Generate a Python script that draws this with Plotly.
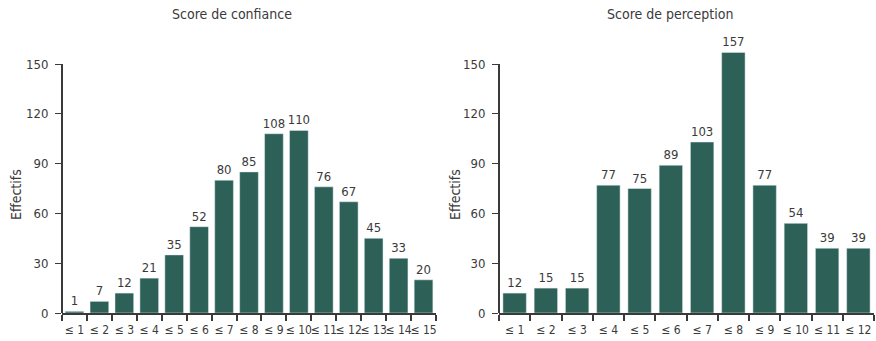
import plotly.graph_objects as go

W, H = 876, 341

cats_conf = ["≤ 1", "≤ 2", "≤ 3", "≤ 4", "≤ 5", "≤ 6", "≤ 7", "≤ 8", "≤ 9", "≤ 10",
             "≤ 11", "≤ 12", "≤ 13", "≤ 14", "≤ 15"]
vals_conf = [1, 7, 12, 21, 35, 52, 80, 85, 108, 110, 76, 67, 45, 33, 20]

cats_perc = ["≤ 1", "≤ 2", "≤ 3", "≤ 4", "≤ 5", "≤ 6", "≤ 7", "≤ 8", "≤ 9", "≤ 10",
             "≤ 11", "≤ 12"]
vals_perc = [12, 15, 15, 77, 75, 89, 103, 157, 77, 54, 39, 39]

y_ticks = [0, 30, 60, 90, 120, 150]
titles = ["Score de confiance", "Score de perception"]
y_title = "Effectifs"

BAR = "#2d6157"
INK = "#3a3a3a"
FONT = "DejaVu Sans Condensed, Liberation Sans Narrow, sans-serif"

def px_x(x):
    return x / W

def px_y(y):
    return 1 - y / H

# plot geometry (pixels)
y0_px, y150_px = 313, 64
per_unit = (y0_px - y150_px) / 150.0
ymax = 162
ytop_px = y0_px - ymax * per_unit

fig = go.Figure()

for cats, vals, xa, ya in ((cats_conf, vals_conf, "x", "y"), (cats_perc, vals_perc, "x2", "y2")):
    fig.add_trace(go.Bar(x=cats, y=vals, marker_color=BAR, text=vals,
                         textposition="outside", cliponaxis=False, constraintext="none",
                         textfont=dict(family=FONT, size=13, color=INK),
                         xaxis=xa, yaxis=ya, hoverinfo="skip"))

xcommon = dict(type="category", tickson="boundaries", ticks="outside", ticklen=6,
               tickwidth=1.5, tickcolor=INK, showline=True, linecolor=INK, linewidth=2,
               showgrid=False, zeroline=False, tickangle=0, automargin=False,
               ticklabelstandoff=5,
               tickfont=dict(family=FONT, size=12, color=INK))
ycommon = dict(range=[0, ymax], tickvals=y_ticks, ticks="outside", ticklen=6,
               tickwidth=1, tickcolor=INK, showline=False, showgrid=False, zeroline=False,
               automargin=False, ticklabelstandoff=4,
               tickfont=dict(family=FONT, size=13, color=INK))

ydom = [px_y(y0_px), px_y(ytop_px)]

fig.update_layout(
    width=W, height=H,
    margin=dict(l=0, r=0, t=0, b=0, autoexpand=False),
    paper_bgcolor="white", plot_bgcolor="white",
    showlegend=False, bargap=0.25,
    xaxis=dict(domain=[px_x(62), px_x(436)], anchor="y", **xcommon),
    yaxis=dict(domain=ydom, anchor="x", **ycommon),
    xaxis2=dict(domain=[px_x(499), px_x(874)], anchor="y2", **xcommon),
    yaxis2=dict(domain=ydom, anchor="x2", **ycommon),
)

for xr, yr in (("x domain", "y"), ("x2 domain", "y2")):
    fig.add_shape(type="line", xref=xr, yref=yr, x0=0, x1=0, y0=0, y1=150,
                  line=dict(color=INK, width=2))

for tx, t in zip((232, 670), titles):
    fig.add_annotation(text=t, xref="paper", yref="paper", x=px_x(tx), y=px_y(14),
                       showarrow=False, xanchor="center", yanchor="middle",
                       font=dict(family=FONT, size=14, color=INK))

for lx in (16, 455):
    fig.add_annotation(text=y_title, xref="paper", yref="paper", x=px_x(lx), y=px_y(195),
                       showarrow=False, xanchor="center", yanchor="middle", textangle=-90,
                       font=dict(family=FONT, size=14, color=INK))

fig.write_html("out.html", config={"displayModeBar": False},
               post_script="document.body.style.margin='0';document.body.style.overflow='hidden';")
